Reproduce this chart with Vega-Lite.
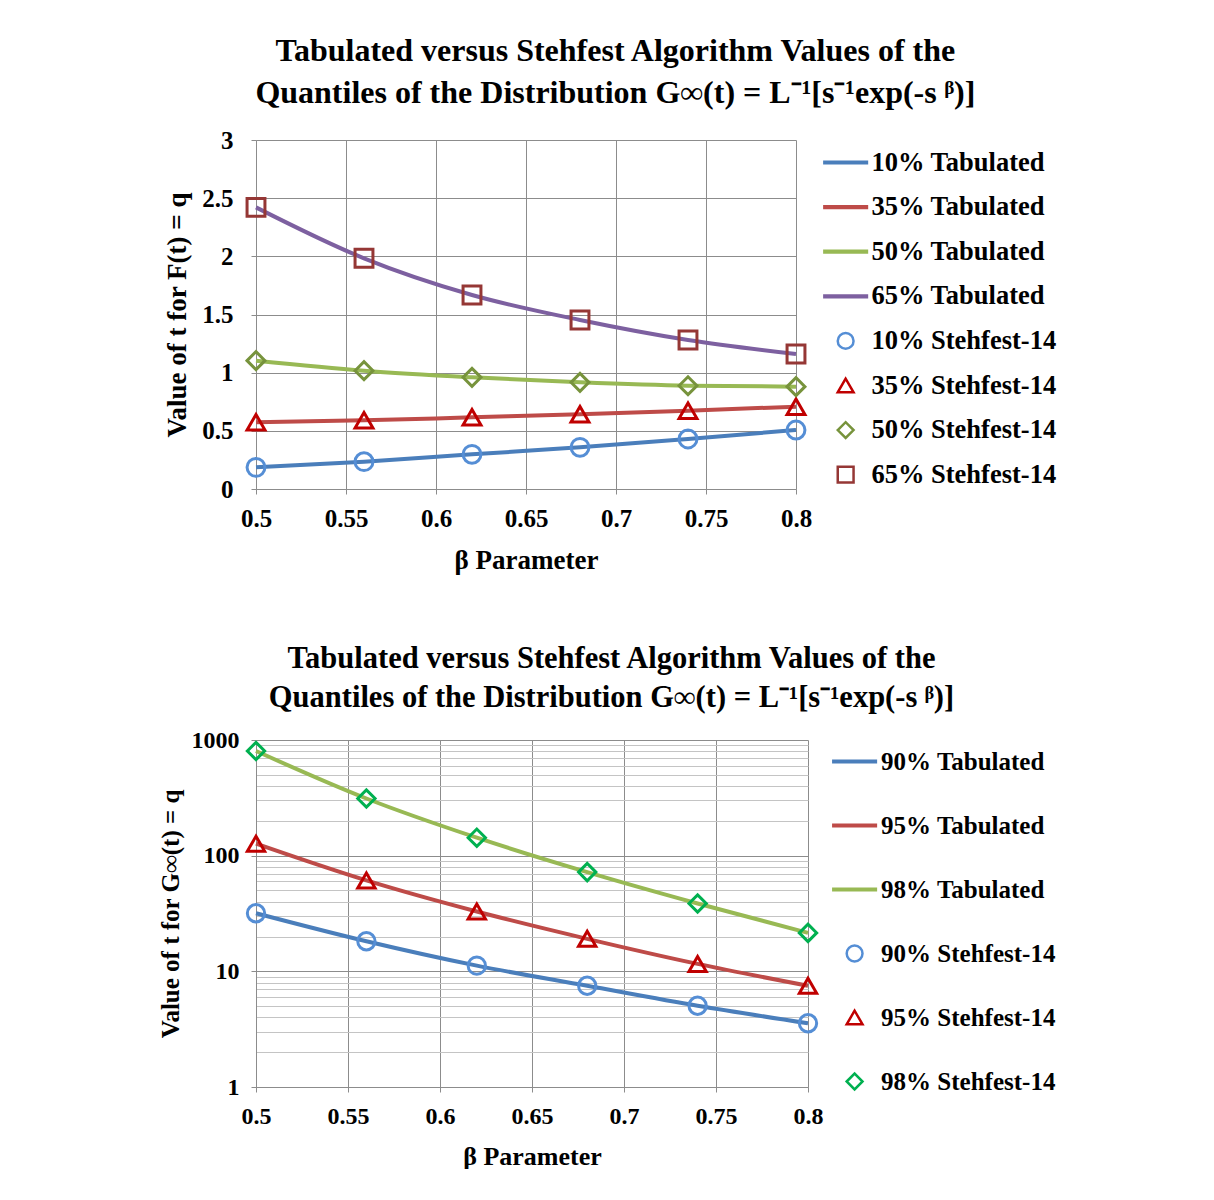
{
  "$schema": "https://vega.github.io/schema/vega-lite/v6.json",
  "background": "white",
  "padding": {"left": 158, "top": 35, "right": 0, "bottom": 0},
  "spacing": 70,
  "resolve": {"scale": {"color": "independent", "shape": "independent"}, "legend": {"color": "independent", "shape": "independent"}},
  "config": {
    "view": {"stroke": null},
    "font": "Liberation Serif",
    "axis": {
      "labelFont": "Liberation Serif", "labelFontSize": 25, "labelFontWeight": "bold", "labelColor": "black",
      "titleFont": "Liberation Serif", "titleFontSize": 27, "titleFontWeight": "bold", "titleColor": "black",
      "gridColor": "#8c8c8c", "gridWidth": 1, "gridOpacity": 1, "labelFlush": false,
      "domainColor": "#8c8c8c", "tickColor": "#8c8c8c", "tickSize": 5
    },
    "axisX": {"labelPadding": 12, "titlePadding": 16},
    "axisY": {"labelPadding": 18, "titlePadding": 10},
    "legend": {
      "labelFont": "Liberation Serif", "labelFontWeight": "bold", "labelColor": "black", "labelLimit": 400
    }
  },
  "vconcat": [
    {
      "title": {
        "text": ["Tabulated versus Stehfest Algorithm Values of the", "Quantiles of the Distribution G∞(t) = L⁻¹[s⁻¹exp(-s ᵝ)]"],
        "font": "Liberation Serif", "fontSize": 32, "fontWeight": "bold", "lineHeight": 42,
        "frame": "bounds", "anchor": "middle", "offset": 18, "color": "black"
      },
      "width": 540,
      "height": 349,
      "data": {"values": [
        {"beta": 0.5, "t": 0.186, "line": "10% Tabulated", "pt": "10% Stehfest-14"},
        {"beta": 0.56, "t": 0.235, "line": "10% Tabulated", "pt": "10% Stehfest-14"},
        {"beta": 0.62, "t": 0.298, "line": "10% Tabulated", "pt": "10% Stehfest-14"},
        {"beta": 0.68, "t": 0.358, "line": "10% Tabulated", "pt": "10% Stehfest-14"},
        {"beta": 0.74, "t": 0.430, "line": "10% Tabulated", "pt": "10% Stehfest-14"},
        {"beta": 0.8, "t": 0.507, "line": "10% Tabulated", "pt": "10% Stehfest-14"},
        {"beta": 0.5, "t": 0.573, "line": "35% Tabulated", "pt": "35% Stehfest-14"},
        {"beta": 0.56, "t": 0.590, "line": "35% Tabulated", "pt": "35% Stehfest-14"},
        {"beta": 0.62, "t": 0.616, "line": "35% Tabulated", "pt": "35% Stehfest-14"},
        {"beta": 0.68, "t": 0.642, "line": "35% Tabulated", "pt": "35% Stehfest-14"},
        {"beta": 0.74, "t": 0.673, "line": "35% Tabulated", "pt": "35% Stehfest-14"},
        {"beta": 0.8, "t": 0.708, "line": "35% Tabulated", "pt": "35% Stehfest-14"},
        {"beta": 0.5, "t": 1.103, "line": "50% Tabulated", "pt": "50% Stehfest-14"},
        {"beta": 0.56, "t": 1.017, "line": "50% Tabulated", "pt": "50% Stehfest-14"},
        {"beta": 0.62, "t": 0.960, "line": "50% Tabulated", "pt": "50% Stehfest-14"},
        {"beta": 0.68, "t": 0.917, "line": "50% Tabulated", "pt": "50% Stehfest-14"},
        {"beta": 0.74, "t": 0.888, "line": "50% Tabulated", "pt": "50% Stehfest-14"},
        {"beta": 0.8, "t": 0.880, "line": "50% Tabulated", "pt": "50% Stehfest-14"},
        {"beta": 0.5, "t": 2.421, "line": "65% Tabulated", "pt": "65% Stehfest-14"},
        {"beta": 0.56, "t": 1.983, "line": "65% Tabulated", "pt": "65% Stehfest-14"},
        {"beta": 0.62, "t": 1.668, "line": "65% Tabulated", "pt": "65% Stehfest-14"},
        {"beta": 0.68, "t": 1.453, "line": "65% Tabulated", "pt": "65% Stehfest-14"},
        {"beta": 0.74, "t": 1.281, "line": "65% Tabulated", "pt": "65% Stehfest-14"},
        {"beta": 0.8, "t": 1.160, "line": "65% Tabulated", "pt": "65% Stehfest-14"}
      ]},
      "encoding": {
        "x": {"field": "beta", "type": "quantitative",
          "scale": {"domain": [0.5, 0.8], "nice": false, "zero": false},
          "axis": {"values": [0.5, 0.55, 0.6, 0.65, 0.7, 0.75, 0.8], "format": "~g", "title": "β Parameter"}},
        "y": {"field": "t", "type": "quantitative",
          "scale": {"domain": [0, 3], "nice": false},
          "axis": {"values": [0, 0.5, 1, 1.5, 2, 2.5, 3], "format": "~g", "title": "Value of  t for F(t) = q"}}
      },
      "layer": [
        {
          "mark": {"type": "line", "interpolate": "monotone", "strokeWidth": 4},
          "encoding": {
            "color": {"field": "line", "type": "nominal",
              "scale": {"domain": ["10% Tabulated", "35% Tabulated", "50% Tabulated", "65% Tabulated", "10% Stehfest-14", "35% Stehfest-14", "50% Stehfest-14", "65% Stehfest-14"],
                        "range": ["#4A7EBB", "#BE4B48", "#98B954", "#7D60A0", "#558ED5", "#C00000", "#77933C", "#953735"]},
              "legend": {"title": null, "orient": "right", "offset": 9, "padding": 10, "symbolSize": 250, "symbolStrokeWidth": 2.5,
                         "symbolOffset": 9.4, "clipHeight": 25, "rowPadding": 17.6, "labelOffset": 12.5, "labelFontSize": 26.5}}
          }
        },
        {
          "mark": {"type": "point", "filled": false, "strokeWidth": 3, "size": 320, "opacity": 1},
          "encoding": {
            "color": {"field": "pt", "type": "nominal",
              "scale": {"domain": ["10% Tabulated", "35% Tabulated", "50% Tabulated", "65% Tabulated", "10% Stehfest-14", "35% Stehfest-14", "50% Stehfest-14", "65% Stehfest-14"],
                        "range": ["#4A7EBB", "#BE4B48", "#98B954", "#7D60A0", "#558ED5", "#C00000", "#77933C", "#953735"]},
              "legend": {"title": null, "orient": "right", "offset": 9, "padding": 10, "symbolSize": 250, "symbolStrokeWidth": 2.5,
                         "symbolOffset": 9.4, "clipHeight": 25, "rowPadding": 17.6, "labelOffset": 12.5, "labelFontSize": 26.5}},
            "shape": {"field": "pt", "type": "nominal",
              "scale": {"domain": ["10% Tabulated", "35% Tabulated", "50% Tabulated", "65% Tabulated", "10% Stehfest-14", "35% Stehfest-14", "50% Stehfest-14", "65% Stehfest-14"],
                        "range": ["M-2.85,-0.11H2.85M-2.85,0.11H2.85", "M-2.85,-0.11H2.85M-2.85,0.11H2.85", "M-2.85,-0.11H2.85M-2.85,0.11H2.85", "M-2.85,-0.11H2.85M-2.85,0.11H2.85", "circle", "triangle-up", "diamond", "square"]},
              "legend": {"title": null, "orient": "right", "offset": 9, "padding": 10, "symbolSize": 250, "symbolStrokeWidth": 2.5,
                         "symbolOffset": 9.4, "clipHeight": 25, "rowPadding": 17.6, "labelOffset": 12.5, "labelFontSize": 26.5}}
          }
        }
      ]
    },
    {
      "title": {
        "text": ["Tabulated versus Stehfest Algorithm Values of the", "Quantiles of the Distribution G∞(t) = L⁻¹[s⁻¹exp(-s ᵝ)]"],
        "font": "Liberation Serif", "fontSize": 30.5, "fontWeight": "bold", "lineHeight": 39,
        "frame": "bounds", "anchor": "middle", "offset": 15, "color": "black"
      },
      "width": 552,
      "height": 347,
      "data": {"values": [
        {"beta": 0.5, "t": 31.8, "line": "90% Tabulated", "pt": "90% Stehfest-14"},
        {"beta": 0.56, "t": 18.2, "line": "90% Tabulated", "pt": "90% Stehfest-14"},
        {"beta": 0.62, "t": 11.2, "line": "90% Tabulated", "pt": "90% Stehfest-14"},
        {"beta": 0.68, "t": 7.5, "line": "90% Tabulated", "pt": "90% Stehfest-14"},
        {"beta": 0.74, "t": 5.04, "line": "90% Tabulated", "pt": "90% Stehfest-14"},
        {"beta": 0.8, "t": 3.56, "line": "90% Tabulated", "pt": "90% Stehfest-14"},
        {"beta": 0.5, "t": 127, "line": "95% Tabulated", "pt": "95% Stehfest-14"},
        {"beta": 0.56, "t": 61.1, "line": "95% Tabulated", "pt": "95% Stehfest-14"},
        {"beta": 0.62, "t": 32.9, "line": "95% Tabulated", "pt": "95% Stehfest-14"},
        {"beta": 0.68, "t": 19.1, "line": "95% Tabulated", "pt": "95% Stehfest-14"},
        {"beta": 0.74, "t": 11.6, "line": "95% Tabulated", "pt": "95% Stehfest-14"},
        {"beta": 0.8, "t": 7.5, "line": "95% Tabulated", "pt": "95% Stehfest-14"},
        {"beta": 0.5, "t": 803, "line": "98% Tabulated", "pt": "98% Stehfest-14"},
        {"beta": 0.56, "t": 312, "line": "98% Tabulated", "pt": "98% Stehfest-14"},
        {"beta": 0.62, "t": 143, "line": "98% Tabulated", "pt": "98% Stehfest-14"},
        {"beta": 0.68, "t": 72.1, "line": "98% Tabulated", "pt": "98% Stehfest-14"},
        {"beta": 0.74, "t": 38.6, "line": "98% Tabulated", "pt": "98% Stehfest-14"},
        {"beta": 0.8, "t": 21.5, "line": "98% Tabulated", "pt": "98% Stehfest-14"}
      ]},
      "encoding": {
        "x": {"field": "beta", "type": "quantitative",
          "scale": {"domain": [0.5, 0.8], "nice": false, "zero": false},
          "axis": {"values": [0.5, 0.55, 0.6, 0.65, 0.7, 0.75, 0.8], "format": "~g", "title": "β Parameter", "labelFontSize": 24, "titleFontSize": 26, "titlePadding": 15}}
      },
      "layer": [
        {
          "mark": {"type": "line", "interpolate": "monotone", "strokeWidth": 4},
          "encoding": {
            "y": {"field": "t", "type": "quantitative",
              "scale": {"type": "log", "domain": [1, 1000], "nice": false},
              "axis": {"orient": "left", "values": [1, 10, 100, 1000], "format": "d", "title": "Value of  t for G∞(t) = q", "labelFontSize": 24, "titleFontSize": 25, "labelPadding": 12, "titlePadding": 8, "gridColor": "#8c8c8c"}},
            "color": {"field": "line", "type": "nominal",
              "scale": {"domain": ["90% Tabulated", "95% Tabulated", "98% Tabulated", "90% Stehfest-14", "95% Stehfest-14", "98% Stehfest-14"],
                        "range": ["#4A7EBB", "#BE4B48", "#98B954", "#558ED5", "#C00000", "#00B050"]},
              "legend": {"title": null, "orient": "right", "offset": 7, "padding": 9, "symbolSize": 250, "symbolStrokeWidth": 2.5,
                         "symbolOffset": 10.1, "clipHeight": 25, "rowPadding": 38, "labelOffset": 14, "labelFontSize": 25}}
          }
        },
        {
          "mark": {"type": "point", "filled": false, "strokeWidth": 3, "size": 300, "opacity": 1},
          "encoding": {
            "y": {"field": "t", "type": "quantitative",
              "scale": {"type": "log", "domain": [1, 1000], "nice": false},
              "axis": {"orient": "right", "values": [2, 3, 4, 5, 6, 7, 8, 9, 20, 30, 40, 50, 60, 70, 80, 90, 200, 300, 400, 500, 600, 700, 800, 900],
                       "labels": false, "ticks": false, "domain": false, "title": null, "grid": true, "gridColor": "#c4c4c4"}},
            "color": {"field": "pt", "type": "nominal",
              "scale": {"domain": ["90% Tabulated", "95% Tabulated", "98% Tabulated", "90% Stehfest-14", "95% Stehfest-14", "98% Stehfest-14"],
                        "range": ["#4A7EBB", "#BE4B48", "#98B954", "#558ED5", "#C00000", "#00B050"]},
              "legend": {"title": null, "orient": "right", "offset": 7, "padding": 9, "symbolSize": 250, "symbolStrokeWidth": 2.5,
                         "symbolOffset": 10.1, "clipHeight": 25, "rowPadding": 38, "labelOffset": 14, "labelFontSize": 25}},
            "shape": {"field": "pt", "type": "nominal",
              "scale": {"domain": ["90% Tabulated", "95% Tabulated", "98% Tabulated", "90% Stehfest-14", "95% Stehfest-14", "98% Stehfest-14"],
                        "range": ["M-2.85,-0.11H2.85M-2.85,0.11H2.85", "M-2.85,-0.11H2.85M-2.85,0.11H2.85", "M-2.85,-0.11H2.85M-2.85,0.11H2.85", "circle", "triangle-up", "diamond"]},
              "legend": {"title": null, "orient": "right", "offset": 7, "padding": 9, "symbolSize": 250, "symbolStrokeWidth": 2.5,
                         "symbolOffset": 10.1, "clipHeight": 25, "rowPadding": 38, "labelOffset": 14, "labelFontSize": 25}}
          }
        }
      ],
      "resolve": {"axis": {"y": "independent"}}
    }
  ]
}
